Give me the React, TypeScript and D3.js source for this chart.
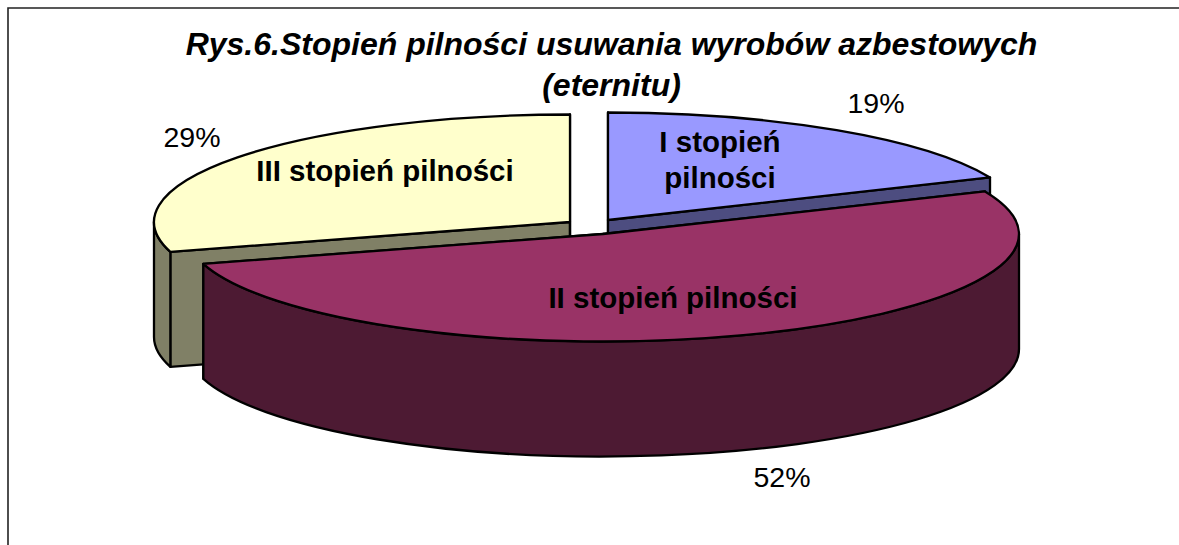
import React from 'react';
import * as d3 from 'd3';

const W = 1179, H = 545;
const categories = ['I stopień pilności', 'II stopień pilności', 'III stopień pilności'];
const values = [19, 52, 29];
const percentLabels = ['19%', '52%', '29%'];
const titleLines = ['Rys.6.Stopień pilności usuwania wyrobów azbestowych', '(eternitu)'];

const tops = ['#9999ff', '#993366', '#ffffcc'];
const sides = ['#4d4d80', '#4d1a33', '#808066'];
const centers = [
  { cx: 608, cy: 220 },
  { cx: 603, cy: 234 },
  { cx: 570, cy: 222 },
];
const RX = 416, RY = 107.5, DEPTH = 115;
const FONT = "Arial, 'Liberation Sans', sans-serif";
const TAU = Math.PI * 2;

const rawArcs = d3.pie<number>().sort(null)(values);
// the original's 3D projection pulls the two interior slice boundaries slightly
const nudge = 0.03;
const warp = d3
  .scaleLinear()
  .domain([0, rawArcs[0].endAngle, rawArcs[1].endAngle, TAU])
  .range([0, rawArcs[0].endAngle - nudge, rawArcs[1].endAngle - nudge, TAU]);
const arcs = rawArcs.map((a) => ({ startAngle: warp(a.startAngle), endAngle: warp(a.endAngle) }));

function pt(c: { cx: number; cy: number }, a: number, dy = 0): [number, number] {
  return [c.cx + RX * Math.sin(a), c.cy - RY * Math.cos(a) + dy];
}
const fmt = (p: [number, number]) => `${p[0].toFixed(2)},${p[1].toFixed(2)}`;

function ellipseArc(to: [number, number], a0: number, a1: number, sweep: number) {
  const large = Math.abs(a1 - a0) > Math.PI ? 1 : 0;
  return `A${RX},${RY} 0 ${large} ${sweep} ${fmt(to)}`;
}

function topPath(i: number) {
  const c = centers[i], { startAngle: s, endAngle: e } = arcs[i];
  return `M${c.cx},${c.cy} L${fmt(pt(c, s))} ${ellipseArc(pt(c, e), s, e, 1)} Z`;
}
function quad(c: { cx: number; cy: number }, a: number) {
  const p = pt(c, a);
  return `M${c.cx},${c.cy} L${fmt(p)} L${p[0]},${p[1] + DEPTH} L${c.cx},${c.cy + DEPTH} Z`;
}
function rim(i: number, a0: number, a1: number) {
  const c = centers[i];
  const s = Math.max(arcs[i].startAngle, a0), e = Math.min(arcs[i].endAngle, a1);
  if (e <= s) return '';
  return `M${fmt(pt(c, s))} ${ellipseArc(pt(c, e), s, e, 1)} L${fmt(pt(c, e, DEPTH))} ${ellipseArc(pt(c, s, DEPTH), s, e, 0)} Z`;
}

const stroke = { stroke: '#000', strokeWidth: 2.3, strokeLinejoin: 'round' as const };

export default function App() {
  const [l1, l2, l3] = categories[0].split(' ');
  return (
    <svg width={W} height={H} style={{ position: 'absolute', left: 0, top: 0, background: '#fff' }}>
      <path d={`M8,${H} V8 H${W}`} fill="none" stroke="#222" strokeWidth={1.6} />
      <text textAnchor="middle" fontFamily={FONT} fontSize={32} fontWeight="bold" fontStyle="italic" fill="#000">
        {titleLines.map((t, i) => (
          <tspan key={t} x={611.5} y={55 + i * 41}>{t}</tspan>
        ))}
      </text>

      {/* III slice */}
      <path d={quad(centers[2], arcs[2].startAngle)} fill={sides[2]} {...stroke} />
      <path d={quad(centers[2], arcs[2].endAngle)} fill={sides[2]} {...stroke} />
      <path d={rim(2, Math.PI, Math.PI * 1.5)} fill={sides[2]} {...stroke} />
      <path d={topPath(2)} fill={tops[2]} {...stroke} />

      {/* I slice */}
      <path d={quad(centers[0], arcs[0].startAngle)} fill={sides[0]} {...stroke} />
      <path d={quad(centers[0], arcs[0].endAngle)} fill={sides[0]} {...stroke} />
      <path d={topPath(0)} fill={tops[0]} {...stroke} />

      {/* II slice */}
      <path d={quad(centers[1], arcs[1].startAngle)} fill={sides[1]} {...stroke} />
      <path d={quad(centers[1], arcs[1].endAngle)} fill={sides[1]} {...stroke} />
      <path d={rim(1, Math.PI / 2, Math.PI * 1.5)} fill={sides[1]} {...stroke} />
      <path d={topPath(1)} fill={tops[1]} {...stroke} />

      <g fontFamily={FONT} fontSize={28.5} fill="#000" textAnchor="middle">
        <text x={876} y={113}>{percentLabels[0]}</text>
        <text x={782} y={487}>{percentLabels[1]}</text>
        <text x={192} y={147}>{percentLabels[2]}</text>
      </g>
      <g fontFamily={FONT} fontSize={29.5} fontWeight="bold" fill="#000" textAnchor="middle">
        <text>
          <tspan x={720} y={152}>{`${l1} ${l2}`}</tspan>
          <tspan x={720} y={188}>{l3}</tspan>
        </text>
        <text x={673} y={308}>{categories[1]}</text>
        <text x={385} y={181}>{categories[2]}</text>
      </g>
    </svg>
  );
}
